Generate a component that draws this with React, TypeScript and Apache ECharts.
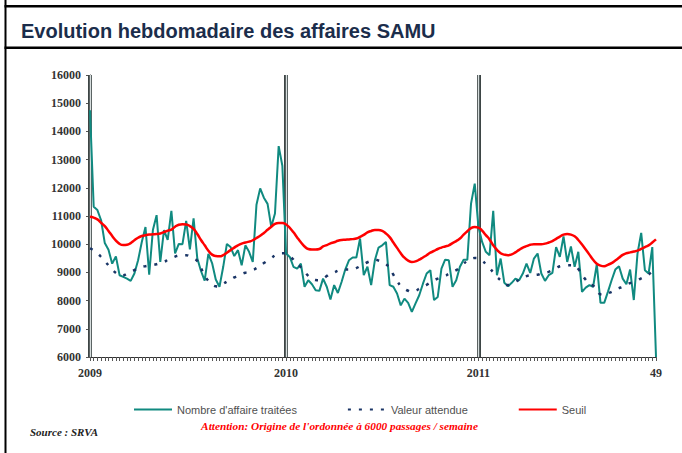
import React, { useEffect, useRef } from "react";
import * as echarts from "echarts";

const yearLabels = ["2009", "2010", "2011"];
const weeksPerYear = [53, 52, 49];
const lastWeekLabel = "49";

const affaires = [
  14750, 11330, 11210, 10850, 10040, 9800, 9310, 9570, 8900, 8840, 8780, 8700, 8960, 9430, 10080, 10610, 8920, 10500, 11030, 9370,
  10500, 10150, 11180, 9670, 10010, 10000, 10830, 9820, 10920, 9500, 9050, 8710, 9660, 9330, 8750, 8490, 9190, 10010, 9900, 9580,
  9790, 9250, 9960, 9730, 9370, 11400, 11980, 11650, 11430, 10615, 11090, 13480, 12780, 9670, 9550, 9200, 9130, 9310, 8490, 8720,
  8580, 8370, 8345, 8780, 8490, 8040, 8550, 8270, 8660, 9100, 9430, 9530, 9530, 10200, 8900, 9200, 8550, 9430, 9880, 9960,
  10080, 8550, 8490, 8250, 7830, 8070, 7920, 7600, 7900, 8190, 8600, 8960, 9080, 8020, 8130, 9130, 9450, 9430, 8490, 8720,
  9200, 9450, 9450, 11440, 12150, 10615, 10080, 9730, 9610, 11180, 8900, 9490, 8630, 8510, 8630, 8780, 8720, 8960, 9310, 8980,
  9490, 9670, 8960, 8700, 8900, 8980, 9900, 9550, 10280, 9370, 9920, 9200, 9730, 8310, 8460, 8550, 8490, 9290, 7920, 7920,
  8310, 8720, 9100, 9220, 8780, 8580, 9100, 8020, 9670, 10400, 9080, 8960, 9900, 6000,
];

const valeurAttendue = [
  9850, 9780, 9680, 9550, 9400, 9250, 9100, 8980, 8900, 8900, 8950, 9020, 9080, 9140, 9190, 9220, 9240, 9260, 9290, 9330,
  9370, 9440, 9500, 9560, 9600, 9610, 9610, 9570, 9500, 9400, 9150, 8880, 8700, 8570, 8510, 8500, 8590, 8670, 8740, 8820,
  8880, 8940, 8990, 9020, 9080, 9150, 9240, 9330, 9420, 9510, 9600, 9660, 9680, 9680, 9580, 9450, 9300, 9180, 9030, 8880,
  8780, 8730, 8720, 8780, 8870, 8960, 9000, 9060, 9100, 9100, 9100, 9100, 9150, 9220, 9290, 9360, 9410, 9450, 9420, 9370,
  9300, 9150, 8920, 8700, 8520, 8420, 8350, 8310, 8350, 8420, 8500, 8560, 8640, 8720, 8780, 8830, 8870, 8950, 9020, 9080,
  9180, 9300, 9420, 9480, 9510, 9500, 9420, 9290, 9150, 9000, 8840, 8720, 8580, 8550, 8600, 8660, 8740, 8810, 8870, 8900,
  8910, 8920, 8960, 8990, 9020, 9080, 9150, 9220, 9240, 9250, 9250, 9240, 9120, 8920, 8740, 8580, 8530, 8380, 8220, 8200,
  8260, 8310, 8380, 8440, 8490, 8560, 8620, 8660, 8720, 8790, 8850, 8930, 9020, 9100,
];

const seuil = [
  10970, 10940, 10880, 10760, 10640, 10470, 10290, 10130, 10010, 9970, 9980, 10040, 10140, 10230, 10290, 10320, 10340, 10350, 10360, 10380,
  10430, 10480, 10520, 10620, 10690, 10710, 10700, 10640, 10540, 10360, 10150, 9960, 9770, 9630, 9580, 9570, 9610, 9700, 9790, 9880,
  9960, 10020, 10060, 10090, 10140, 10220, 10300, 10400, 10510, 10620, 10720, 10750, 10750, 10700, 10580, 10420, 10240, 10070, 9920, 9830,
  9810, 9810, 9830, 9920, 9970, 10030, 10070, 10120, 10150, 10160, 10170, 10180, 10200, 10260, 10330, 10420, 10470, 10500, 10500, 10470,
  10380, 10250, 10060, 9870, 9680, 9520, 9420, 9370, 9390, 9450, 9530, 9610, 9700, 9760, 9830, 9880, 9920, 9960, 10040, 10110,
  10200, 10340, 10460, 10570, 10610, 10590, 10480, 10320, 10170, 9960, 9800, 9680, 9630, 9610, 9640, 9710, 9800, 9880, 9930, 9980,
  10000, 10000, 10000, 10020, 10060, 10110, 10190, 10270, 10340, 10360, 10340, 10280, 10150, 9990, 9810, 9630, 9450, 9310, 9240, 9220,
  9270, 9330, 9420, 9520, 9620, 9680, 9710, 9740, 9770, 9830, 9900, 9960, 10060, 10170,
];

const seriesNames = ["Nombre d'affaire traitées", "Valeur attendue", "Seuil"];
const titleText = "Evolution hebdomadaire des affaires SAMU";
const noteText = "Attention: Origine de l'ordonnée à 6000 passages / semaine";
const sourceText = "Source : SRVA";

const categories: string[] = [];
const tickLabels: Record<string, string> = {};
yearLabels.forEach((y, yi) => {
  for (let w = 1; w <= weeksPerYear[yi]; w++) {
    const c = `${y}-S${w}`;
    categories.push(c);
    if (w === 1) tickLabels[c] = y;
  }
});
tickLabels[categories[categories.length - 1]] = lastWeekLabel;
const yearStarts = yearLabels.map((y) => `${y}-S1`);

export default function App() {
  const ref = useRef<HTMLDivElement>(null);
  useEffect(() => {
    if (!ref.current) return;
    const chart = echarts.init(ref.current, undefined, { renderer: "svg" });
    const serif = "'Liberation Serif', 'Times New Roman', serif";
    const sans = "'Liberation Sans', Arial, sans-serif";
    chart.setOption({
      animation: false,
      backgroundColor: "#ffffff",
      title: {
        text: titleText,
        left: 16,
        top: 16,
        textStyle: { fontFamily: sans, fontSize: 20, fontWeight: "bold", color: "#1b2d4b" },
      },
      legend: {
        left: 128,
        top: 399,
        itemWidth: 38,
        itemHeight: 10,
        itemGap: 50,
        itemStyle: { opacity: 0 },
        textStyle: { fontFamily: sans, fontSize: 11, color: "#505050" },
        data: seriesNames,
      },
      grid: { left: 90, right: 26, top: 75, bottom: 96 },
      xAxis: {
        type: "category",
        data: categories,
        boundaryGap: false,
        axisLine: { lineStyle: { color: "#333", width: 1 } },
        axisTick: { show: true, interval: 0, length: 4, lineStyle: { color: "#555" } },
        axisLabel: {
          interval: (idx: number, val: string) => tickLabels[val] !== undefined,
          formatter: (val: string) => tickLabels[val] ?? "",
          fontFamily: serif,
          fontWeight: "bold",
          fontSize: 12,
          color: "#333",
          margin: 10,
        },
        splitLine: { show: false },
      },
      yAxis: {
        type: "value",
        min: 6000,
        max: 16000,
        interval: 1000,
        axisLine: { show: true, lineStyle: { color: "#333" } },
        axisTick: { show: true, length: 4, lineStyle: { color: "#555" } },
        axisLabel: {
          formatter: (v: number) => String(v),
          fontFamily: serif,
          fontWeight: "bold",
          fontSize: 12,
          color: "#333",
          margin: 9,
        },
        splitLine: { show: false },
      },
      series: [
        {
          name: "yearMarkOuter",
          type: "line",
          data: [],
          silent: true,
          z: 1,
          markLine: {
            silent: true,
            z: 1,
            symbol: "none",
            label: { show: false },
            lineStyle: { color: "#3d4545", width: 4, type: "solid" },
            data: yearStarts.map((c) => ({ xAxis: c })),
          },
        },
        {
          name: "yearMarkInner",
          type: "line",
          data: [],
          silent: true,
          z: 1,
          markLine: {
            silent: true,
            z: 2,
            symbol: "none",
            label: { show: false },
            lineStyle: { color: "#d7dede", width: 1.4, type: "solid" },
            data: yearStarts.map((c) => ({ xAxis: c })),
          },
        },
        {
          name: seriesNames[0],
          type: "line",
          data: affaires,
          symbol: "none",
          lineStyle: { color: "#108a80", width: 2 },
          itemStyle: { color: "#108a80" },
          z: 3,
        },
        {
          name: seriesNames[1],
          type: "line",
          data: valeurAttendue,
          symbol: "none",
          smooth: true,
          lineStyle: { color: "#1a3566", width: 2.5, type: [3, 8] },
          itemStyle: { color: "#1a3566" },
          z: 3,
        },
        {
          name: seriesNames[2],
          type: "line",
          data: seuil,
          symbol: "none",
          smooth: true,
          lineStyle: { color: "#ff0000", width: 2.5 },
          itemStyle: { color: "#ff0000" },
          z: 4,
        },
      ],
      graphic: [
        { type: "rect", shape: { x: 4.5, y: 0, width: 2, height: 453 }, style: { fill: "#000" }, silent: true },
        { type: "rect", shape: { x: 4.5, y: 5, width: 678, height: 2.5 }, style: { fill: "#000" }, silent: true },
        { type: "rect", shape: { x: 4.5, y: 46.5, width: 678, height: 2.5 }, style: { fill: "#000" }, silent: true },
        {
          type: "text",
          x: 339.5,
          y: 426,
          style: {
            text: noteText,
            fill: "#ff0000",
            font: `italic bold 11.3px ${serif}`,
            textAlign: "center",
            textVerticalAlign: "middle",
          },
        },
        {
          type: "text",
          x: 30,
          y: 432,
          style: {
            text: sourceText,
            fill: "#222",
            font: `italic bold 11px ${serif}`,
            textAlign: "left",
            textVerticalAlign: "middle",
          },
        },
      ],
    });
    return () => chart.dispose();
  }, []);
  return (
    <div
      ref={ref}
      style={{ position: "fixed", left: 0, top: 0, width: 682, height: 453, background: "#fff" }}
    />
  );
}
